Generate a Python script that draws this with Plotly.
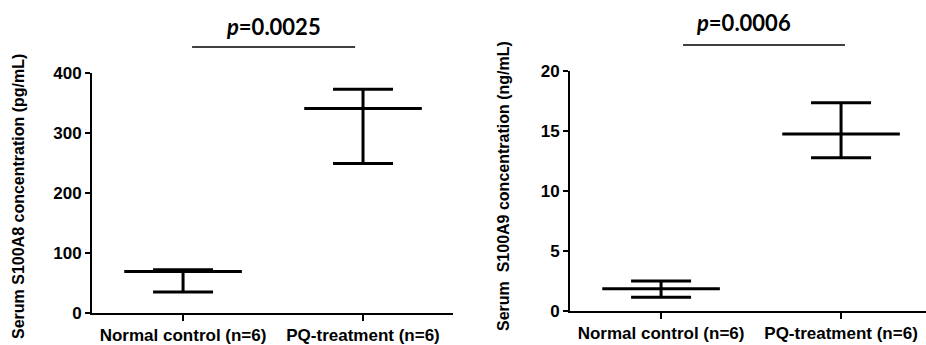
import plotly.graph_objects as go

# ---- data ----
categories = ["Normal control (n=6)", "PQ-treatment (n=6)"]
s100a8_mean = [69, 341]
s100a8_upper = [72, 373]
s100a8_lower = [35, 249]
s100a9_mean = [1.86, 14.75]
s100a9_upper = [2.5, 17.35]
s100a9_lower = [1.14, 12.78]
y1_ticks = [0, 100, 200, 300, 400]
y2_ticks = [0, 5, 10, 15, 20]
p_texts = ["<i>p</i>=0.0025", "<i>p</i>=0.0006"]
y_titles = ["Serum S100A8 concentration (pg/mL)", "Serum  S100A9 concentration (ng/mL)"]

W, H = 926, 345
FONT = "Liberation Sans"
xs = list(range(len(categories)))

fig = go.Figure()

def add_panel(mean, upper, lower, xa, ya):
    fig.add_trace(go.Scatter(
        x=xs, y=mean, mode="markers", xaxis=xa, yaxis=ya,
        marker=dict(symbol="line-ew-open", size=84, color="black",
                    line=dict(color="black", width=3)),
        error_y=dict(type="data", symmetric=False,
                     array=[u - m for u, m in zip(upper, mean)],
                     arrayminus=[m - l for m, l in zip(mean, lower)],
                     color="black", thickness=3, width=30),
        showlegend=False, hoverinfo="skip"))

add_panel(s100a8_mean, s100a8_upper, s100a8_lower, "x", "y")
add_panel(s100a9_mean, s100a9_upper, s100a9_lower, "x2", "y2")

axis_common = dict(showline=True, linecolor="black", linewidth=2, showgrid=False,
                   zeroline=False, ticks="outside", tickcolor="black", tickwidth=2,
                   automargin=False,
                   tickfont=dict(family=FONT, size=17, color="black"))

fig.update_layout(
    width=W, height=H, margin=dict(l=0, r=0, t=0, b=0, autoexpand=False),
    plot_bgcolor="white", paper_bgcolor="white",
    xaxis=dict(domain=[92 / W, 453 / W], range=[-0.506, 1.5], tickvals=xs,
               ticktext=["<b>%s</b>" % c for c in categories], ticklen=6,
               anchor="y", **axis_common),
    yaxis=dict(domain=[32 / H, 272 / H], range=[0, 400], tickvals=y1_ticks,
               ticktext=["<b>%d</b>" % v for v in y1_ticks], ticklen=5,
               anchor="x", **axis_common),
    xaxis2=dict(domain=[570 / W, 1.0], range=[-0.506, 1.472], tickvals=xs,
                ticktext=["<b>%s</b>" % c for c in categories], ticklen=6,
                anchor="y2", **axis_common),
    yaxis2=dict(domain=[34 / H, 274 / H], range=[0, 20], tickvals=y2_ticks,
                ticktext=["<b>%d</b>" % v for v in y2_ticks], ticklen=5,
                anchor="x2", **axis_common),
)

# significance brackets
fig.add_shape(type="line", xref="x", yref="paper", x0=0.05, x1=0.956,
              y0=(H - 47) / H, y1=(H - 47) / H, line=dict(color="black", width=1.5))
fig.add_shape(type="line", xref="x2", yref="paper", x0=0.122, x1=1.022,
              y0=(H - 45) / H, y1=(H - 45) / H, line=dict(color="black", width=1.5))
fig.add_annotation(text="<b>%s</b>" % p_texts[0], xref="x", yref="paper", x=0.5,
                   y=(H - 27) / H, xanchor="center", yanchor="middle", showarrow=False,
                   font=dict(family="Lato", size=22, color="black"))
fig.add_annotation(text="<b>%s</b>" % p_texts[1], xref="x2", yref="paper", x=0.456,
                   y=(H - 22) / H, xanchor="center", yanchor="middle", showarrow=False,
                   font=dict(family="Lato", size=22, color="black"))

# y titles
fig.add_annotation(text="<b>%s</b>" % y_titles[0], xref="paper", yref="paper", x=18 / W,
                   y=(H - 197) / H, xanchor="center", yanchor="middle", textangle=-90,
                   showarrow=False, font=dict(family=FONT, size=16, color="black"))
fig.add_annotation(text="<b>%s</b>" % y_titles[1], xref="paper", yref="paper", x=503 / W,
                   y=(H - 186) / H, xanchor="center", yanchor="middle", textangle=-90,
                   showarrow=False, font=dict(family=FONT, size=16, color="black"))

fig.write_html("out.html")
